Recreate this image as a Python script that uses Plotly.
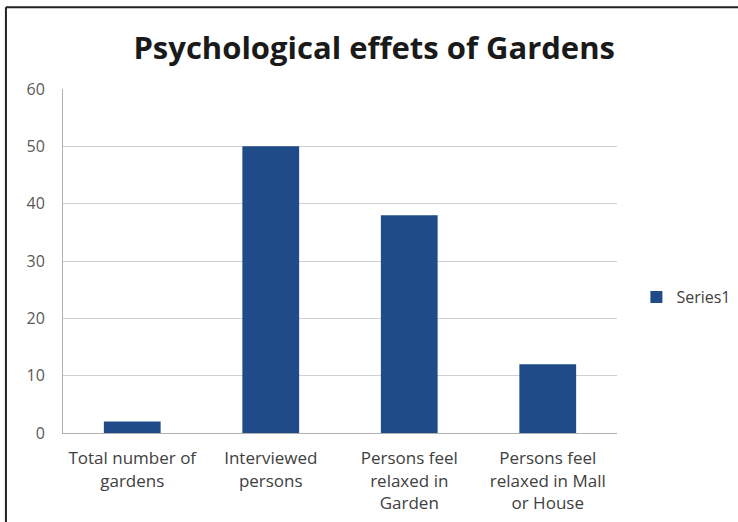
import plotly.graph_objects as go

categories = ["Total number of<br>gardens", "Interviewed<br>persons",
              "Persons feel<br>relaxed in<br>Garden", "Persons feel<br>relaxed in Mall<br>or House"]
values = [2, 50, 38, 12]
series_name = "Series1"
y_ticks = [0, 10, 20, 30, 40, 50, 60]

fig = go.Figure()
fig.add_trace(go.Bar(x=categories, y=values, name=series_name,
                     marker=dict(color="#1F4C89", line=dict(width=0)),
                     showlegend=True))

fig.update_layout(
    width=738, height=522,
    margin=dict(l=63, r=121, t=89, b=89, autoexpand=False),
    paper_bgcolor="white", plot_bgcolor="white",
    bargap=0.59,
    font=dict(family="Open Sans, Liberation Sans, sans-serif", color="#404040"),
    title=dict(text="<b>Psychological effets of Gardens</b>", x=0.507, xanchor="center",
               y=0.907, yanchor="middle", yref="container",
               font=dict(size=31, color="#1a1a1a", family="Open Sans, sans-serif")),
    showlegend=True,
    legend=dict(x=1.035, y=0.395, xanchor="left", yanchor="middle",
                font=dict(size=16, color="#404040"), bgcolor="rgba(0,0,0,0)",
                itemwidth=30),
    xaxis=dict(showgrid=False, showline=True, linecolor="#b0b0b0", linewidth=1,
               tickfont=dict(size=17, color="#404040"), ticks="",
               ticklabelstandoff=10, fixedrange=True),
    yaxis=dict(range=[0, 60], tickvals=y_ticks, showgrid=True, gridcolor="#d0d0d0",
               gridwidth=1, showline=True, linecolor="#b0b0b0", linewidth=1,
               tickfont=dict(size=16, color="#595959"), ticks="",
               ticklabelstandoff=14, zeroline=False, fixedrange=True),
)

# outer frame (left and top edges visible)
fig.add_shape(type="line", xref="paper", yref="paper",
              x0=-0.103, x1=-0.103, y0=-0.3, y1=1.238,
              line=dict(color="#222222", width=2))
fig.add_shape(type="line", xref="paper", yref="paper",
              x0=-0.103, x1=1.25, y0=1.238, y1=1.238,
              line=dict(color="#222222", width=2))

fig.write_html("out.html")
